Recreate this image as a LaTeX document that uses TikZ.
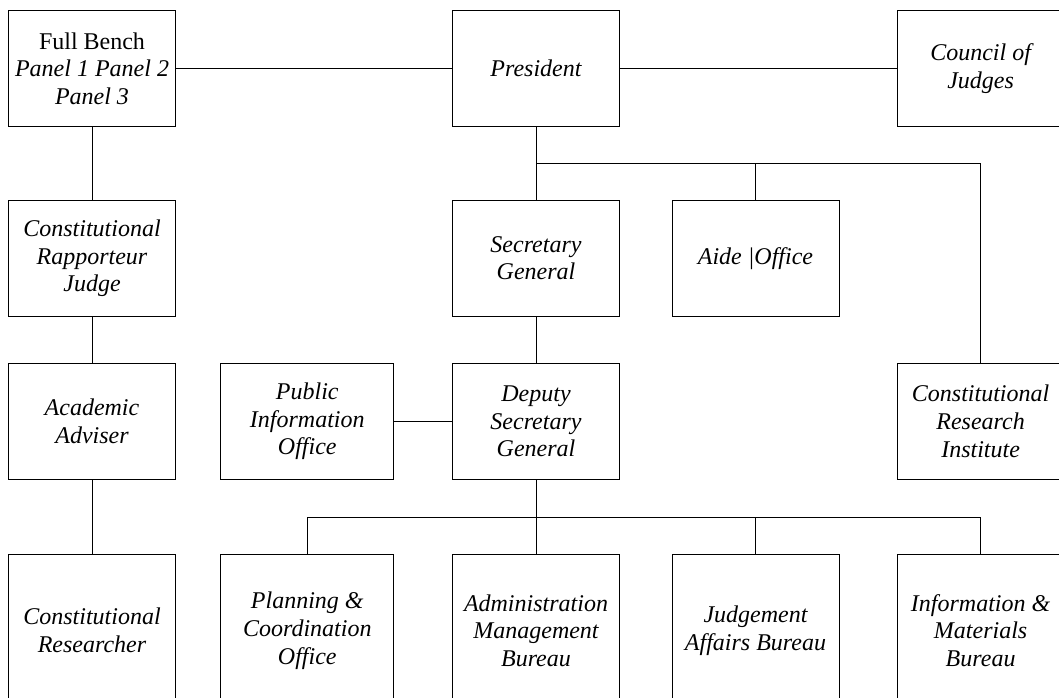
\documentclass[tikz,border=0pt]{standalone}
\usepackage{fontspec}
\setmainfont{Liberation Serif}
\usepackage{tikz}
\usetikzlibrary{arrows}

\tikzset{
	unit/.style={draw, rectangle, minimum width=167pt, minimum height=116pt, inner sep=2pt,
		align=center, font=\fontsize{24}{27.7}\selectfont\itshape},
	wideunit/.style={unit, minimum width=173pt},
	tallunit/.style={unit, minimum height=153pt},
	wideunit tall/.style={wideunit, minimum height=153pt}
}

\begin{document}
\begin{tikzpicture}[x=1pt, y=-1pt, line width=1pt]
		\useasboundingbox (0,0) rectangle (1059,697);
		\node[unit] (bench) at (92, 68.5) {{\upshape Full Bench}\\Panel 1 Panel 2\\Panel 3};
		\node[unit] (pres) at (536, 68.5) {President};
		\node[unit] (council) at (980.6, 68.5) {Council of\\Judges};
		
		\node[unit] (rapp) at (92, 258.3) {Constitutional\\Rapporteur\\Judge};
		\node[unit] (secgen) at (536, 258.3) {Secretary\\General};
		\node[unit] (aide) at (755.5, 258.3) {Aide |Office};
		
		\node[unit] (adviser) at (92, 421.3) {Academic\\Adviser};
		\node[wideunit] (pio) at (307.3, 421.3) {Public\\Information\\Office};
		\node[unit] (deputy) at (536, 421.3) {Deputy\\Secretary\\General};
		\node[unit] (cri) at (980.6, 421.3) {Constitutional\\Research\\Institute};
		
		\node[tallunit] (researcher) at (92, 630.6) {Constitutional\\Researcher};
		\node[wideunit tall] (plan) at (307.3, 630.6) {Planning \&\\Coordination\\Office};
		\node[tallunit] (admin) at (536, 630.6) {Administration\\Management\\Bureau};
		\node[tallunit] (judge) at (755.5, 630.6) {Judgement\\Affairs Bureau};
		\node[tallunit] (info) at (980.6, 630.6) {Information \&\\Materials\\Bureau};
		
		\coordinate (upper) at (536, 163);
		\coordinate (lower) at (536, 517);
		
		\path (bench) edge (pres)
		(pres) edge (council)
		(bench) edge (rapp)
		(rapp) edge (adviser)
		(adviser) edge (researcher)
		(pres) edge (secgen)
		(secgen) edge (deputy)
		(pio) edge (deputy)
		(deputy) edge (admin);
		
		\draw (upper) -| (cri.north);
		\draw (aide.north) -- (aide.north |- upper);
		\draw (plan.north) |- (lower) -| (info.north);
		\draw (judge.north) -- (judge.north |- lower);
	\end{tikzpicture}
\end{document}
